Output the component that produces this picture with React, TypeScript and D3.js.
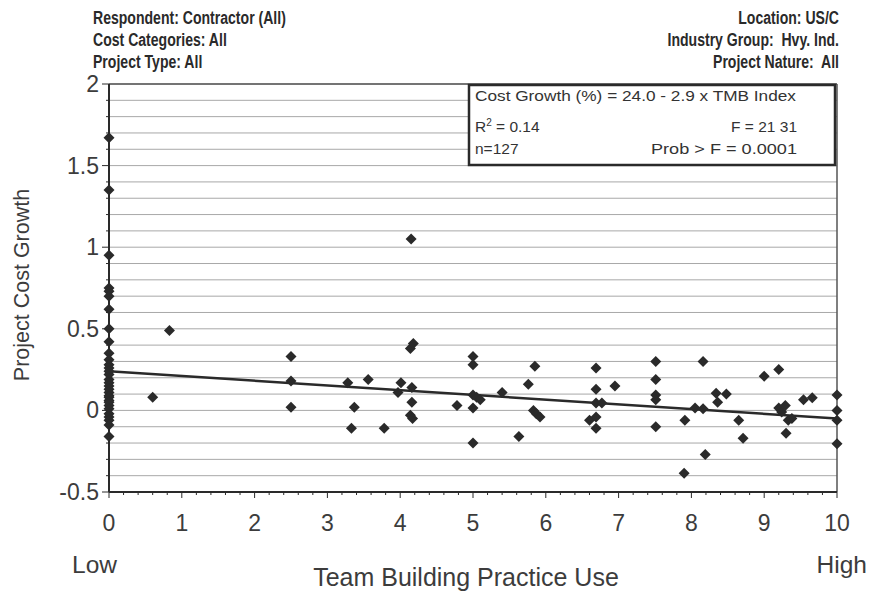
import React from "react";
import * as d3 from "d3";

const headerLeft = ["Respondent: Contractor (All)", "Cost Categories: All", "Project Type:  All"];
const headerRight = ["Location: US/C", "Industry Group:  Hvy. Ind.", "Project Nature:  All"];

const statsEquation = "Cost Growth (%) = 24.0 - 2.9 x TMB Index";
const statsR2 = "0.14";
const statsF = "F = 21 31";
const statsN = "n=127";
const statsP = "Prob > F = 0.0001";

const regIntercept = 0.24;
const regSlope = -0.029;

const xTickLabels = ["0", "1", "2", "3", "4", "5", "6", "7", "8", "9", "10"];
const yTickValues = [2, 1.5, 1, 0.5, 0, -0.5];

const zeroYs = [1.67, 1.35, 0.95, 0.75, 0.73, 0.70, 0.62, 0.50, 0.42, 0.35, 0.31, 0.28, 0.26, 0.24, 0.22, 0.19, 0.17, 0.15, 0.13, 0.11, 0.09, 0.08, 0.06, 0.05, 0.03, 0.01, -0.02, -0.04, -0.06, -0.09, -0.16];

const otherXs = [0.6, 0.83, 2.5, 2.5, 2.5, 3.28, 3.33, 3.37, 3.56, 3.78, 3.97, 4.01, 4.15, 4.14, 4.18, 4.16, 4.16, 4.14, 4.17, 4.78, 5.0, 5.0, 5.0, 5.05, 5.1, 5.0, 5.0, 5.4, 5.63, 5.76, 5.85, 5.83, 5.87, 5.92, 6.6, 6.69, 6.69, 6.69, 6.69, 6.77, 6.69, 6.95, 7.51, 7.51, 7.51, 7.51, 7.51, 7.91, 7.9, 8.05, 8.16, 8.16, 8.19, 8.34, 8.36, 8.48, 8.65, 8.71, 9.0, 9.2, 9.2, 9.24, 9.29, 9.33, 9.38, 9.3, 9.54, 9.66, 10, 10, 10, 10];
const otherYs = [0.08, 0.49, 0.33, 0.18, 0.02, 0.17, -0.11, 0.02, 0.19, -0.11, 0.11, 0.17, 1.05, 0.38, 0.41, 0.14, 0.05, -0.03, -0.05, 0.03, 0.33, 0.28, 0.095, 0.08, 0.065, 0.015, -0.2, 0.11, -0.16, 0.16, 0.27, 0.0, -0.02, -0.04, -0.06, -0.04, 0.26, 0.13, 0.045, 0.045, -0.11, 0.15, 0.30, 0.19, 0.095, 0.065, -0.10, -0.06, -0.385, 0.015, 0.01, 0.30, -0.27, 0.105, 0.05, 0.10, -0.06, -0.17, 0.21, 0.25, 0.015, -0.01, 0.03, -0.06, -0.05, -0.14, 0.065, 0.077, 0.095, 0.0, -0.06, -0.205];

const W = 872;
const H = 592;
const L = 109, R = 837, T = 84, B = 492;

export default function App() {
  const x = d3.scaleLinear().domain([0, 10]).range([L, R]);
  const y = d3.scaleLinear().domain([-0.5, 2]).range([B, T]);

  const points: [number, number][] = [
    ...zeroYs.map((v) => [0, v] as [number, number]),
    ...otherXs.map((xv, i) => [xv, otherYs[i]] as [number, number]),
  ];

  const gridVals = d3.range(-4, 21).map((i) => i / 10);
  const xMinor = d3.range(0, 51).map((i) => i / 5);
  const dw = 5.5, dh = 5.5;
  const diamondPath = `M0,${-dh}L${dw},0L0,${dh}L${-dw},0Z`;
  const line = d3.line<number>().x((d) => x(d)).y((d) => y(regIntercept + regSlope * d));

  const sans = "'Liberation Sans', Arial, Helvetica, sans-serif";
  const dark = "#2a2a2a";
  const labelCol = "#3c3c3c";
  const statsRight = 797;
  const hScale = 0.76;

  return (
    <svg width={W} height={H} style={{ position: "absolute", left: 0, top: 0, background: "#fff" }} fontFamily={sans}>
      <rect x={0} y={0} width={W} height={H} fill="#fff" />
      {/* headers */}
      {headerLeft.map((t, i) => (
        <text key={"hl" + i} transform={`translate(93,${24 + i * 22}) scale(${hScale},1)`} fontSize={18.5} fontWeight="bold" fill={dark}>{t}</text>
      ))}
      {headerRight.map((t, i) => (
        <text key={"hr" + i} transform={`translate(839,${24 + i * 22}) scale(${hScale},1)`} textAnchor="end" fontSize={18.5} fontWeight="bold" fill={dark} style={{ whiteSpace: "pre" }}>{t}</text>
      ))}

      {/* gridlines */}
      {gridVals.map((v) => (
        <line key={"g" + v} x1={L} x2={R} y1={y(v)} y2={y(v)} stroke="#a8a8a8" strokeWidth={1} />
      ))}
      <line x1={L} x2={R} y1={y(2)} y2={y(2)} stroke="#555" strokeWidth={1.5} />
      <line x1={R} x2={R} y1={T} y2={B} stroke="#555" strokeWidth={1.5} />

      {/* y axis */}
      <line x1={L} x2={L} y1={T} y2={B} stroke={dark} strokeWidth={2} />
      {d3.range(-5, 21).map((i) => {
        const v = i / 10;
        const major = i % 5 === 0;
        return <line key={"yt" + i} x1={major ? L - 7 : L - 3} x2={L} y1={y(v)} y2={y(v)} stroke={dark} strokeWidth={1} />;
      })}
      {yTickValues.map((v) => (
        <text key={"yl" + v} x={99} y={y(v) + 8} textAnchor="end" fontSize={23} fill={labelCol}>{String(v)}</text>
      ))}

      {/* x axis */}
      <line x1={L} x2={R} y1={B} y2={B} stroke={dark} strokeWidth={2} />
      {xMinor.map((v, i) => (
        <line key={"xt" + i} x1={x(v)} x2={x(v)} y1={B} y2={B + (i % 5 === 0 ? 6 : 3)} stroke={dark} strokeWidth={1} />
      ))}
      {xTickLabels.map((t, i) => (
        <text key={"xl" + i} x={x(i)} y={531} textAnchor="middle" fontSize={23} fill={labelCol}>{t}</text>
      ))}

      {/* regression line */}
      <path d={line([0, 10]) || ""} fill="none" stroke={dark} strokeWidth={2.5} />

      {/* points */}
      {points.map((p, i) => (
        <path key={"p" + i} d={diamondPath} transform={`translate(${x(p[0])},${y(p[1])})`} fill={dark} />
      ))}

      {/* stats box */}
      <rect x={469} y={85} width={366} height={80} fill="#fff" stroke={dark} strokeWidth={2.5} />
      <text x={475} y={101} fontSize={15.5} fill="#333" textLength={321} lengthAdjust="spacingAndGlyphs">{statsEquation}</text>
      <text x={475} y={132} fontSize={15.5} fill="#333">R<tspan fontSize={10} dy={-6}>2</tspan><tspan dy={6}>{" = " + statsR2}</tspan></text>
      <text x={statsRight} y={132} fontSize={15.5} fill="#333" textAnchor="end">{statsF}</text>
      <text x={475} y={154} fontSize={15.5} fill="#333">{statsN}</text>
      <text x={statsRight - 146} y={154} fontSize={15.5} fill="#333" textLength={146} lengthAdjust="spacingAndGlyphs">{statsP}</text>

      {/* axis titles */}
      <text transform={`translate(29,285) rotate(-90)`} textAnchor="middle" fontSize={21.5} fill={labelCol}>Project Cost Growth</text>
      <text x={72} y={573} fontSize={24.5} fill={labelCol}>Low</text>
      <text x={867} y={573} fontSize={24.5} fill={labelCol} textAnchor="end">High</text>
      <text x={466} y={586} fontSize={25} fill={labelCol} textAnchor="middle">Team Building Practice Use</text>
    </svg>
  );
}
